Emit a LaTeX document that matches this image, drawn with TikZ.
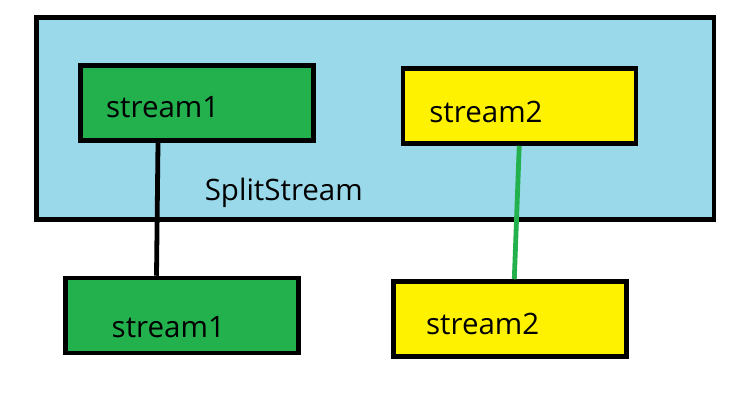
\documentclass[tikz,border=0pt]{standalone}
\usepackage{fontspec}
\setmainfont{Open Sans}
\definecolor{splitblue}{HTML}{99D9EA}
\definecolor{streamgreen}{HTML}{22B14C}
\definecolor{streamyellow}{HTML}{FFF200}
\begin{document}
\begin{tikzpicture}[
  x=1pt,y=-1pt,
  frame/.style={draw, line width=4.5pt, fill=splitblue, minimum width=677.5pt, minimum height=202pt, inner sep=0pt},
  box/.style={draw, line width=4.5pt, minimum width=233pt, minimum height=75pt, inner sep=0pt},
  greenbox/.style={box, fill=streamgreen},
  yellowbox/.style={box, fill=streamyellow},
  lbl/.style={anchor=base, inner sep=0pt, font=\fontsize{29.5}{34}\selectfont},
  link/.style={line width=4.8pt}
]
\useasboundingbox[fill=white] (0,0) rectangle (730,409);

\node[frame]     (split) at (375.25,118.5) {};
\node[greenbox]  (top1)  at (197,103)      {};
\node[yellowbox] (top2)  at (519.25,106)   {};
\node[greenbox]  (bot1)  at (182,315.5)    {};
\node[yellowbox] (bot2)  at (510,319)      {};

\node[lbl] (top1txt)  at (162.7,117.3) {stream1};
\node[lbl] (top2txt)  at (486,122.3)   {stream2};
\node[lbl] (splittxt) at (283.8,200)   {SplitStream};
\node[lbl] (bot1txt)  at (168.3,337.3) {stream1};
\node[lbl] (bot2txt)  at (482.7,334)   {stream2};

\draw[link] ([xshift=-39pt]top1.south) -- ([xshift=-25.5pt]bot1.north);
\draw[link, streamgreen] ([xshift=0pt]top2.south) -- ([xshift=4.3pt]bot2.north);
\end{tikzpicture}
\end{document}
